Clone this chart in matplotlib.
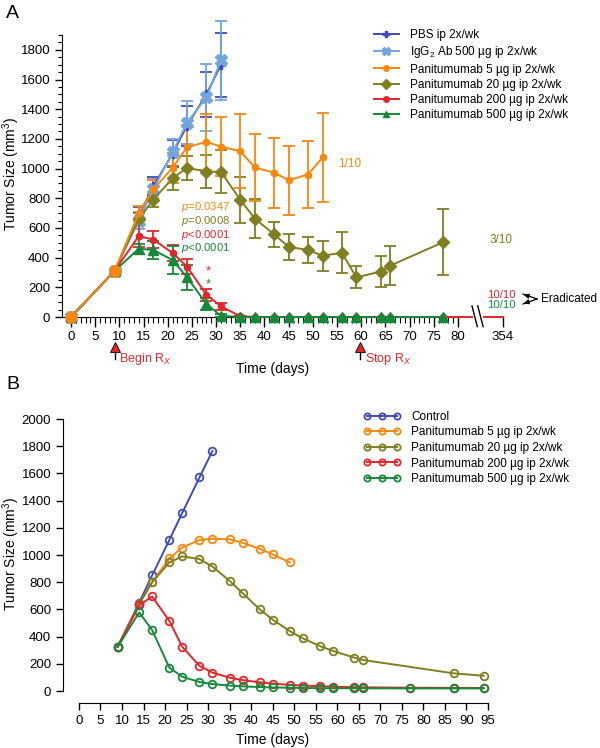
import numpy as np
import matplotlib
matplotlib.use("Agg")
import matplotlib.pyplot as plt
from matplotlib.lines import Line2D

plt.rcParams['font.family'] = ['Liberation Sans', 'DejaVu Sans']
plt.rcParams['mathtext.fontset'] = 'custom'
plt.rcParams['mathtext.rm'] = 'Liberation Sans'
plt.rcParams['mathtext.it'] = 'Liberation Sans:italic'
plt.rcParams['font.size'] = 9

# ---- panel A data (mean +/- error) ----
days_a = [0, 9, 14, 17, 21, 24, 28, 31, 35, 38, 42, 45, 49, 52, 56, 59, 64, 66, 77]
pbs = [0, 310, 680, 880, 1100, 1290, 1500, 1700]
pbs_err = [0, 15, 60, 60, 90, 135, 150, 215]
igg = [0, 310, 650, 860, 1110, 1310, 1480, 1730]
igg_err = [0, 15, 60, 70, 90, 145, 225, 265]
p5 = [0, 310, 700, 860, 1005, 1145, 1180, 1148, 1117, 1008, 972, 922, 960, 1075]
p5_err = [0, 15, 50, 60, 100, 150, 190, 200, 250, 225, 235, 233, 227, 298]
p20 = [0, 310, 660, 790, 935, 1005, 980, 978, 790, 663, 557, 472, 452, 413, 433, 267, 306, 346, 505]
p20_err = [0, 15, 40, 50, 80, 80, 110, 145, 155, 130, 82, 90, 85, 100, 137, 74, 107, 130, 220]
p200 = [0, 310, 545, 522, 432, 339, 150, 72, 5, 0, 0, 0, 0, 0, 0, 0, 0, 0, 0]
p200_err = [0, 15, 75, 55, 55, 50, 40, 25, 0, 0, 0, 0, 0, 0, 0, 0, 0, 0, 0]
p500 = [0, 310, 460, 452, 384, 268, 88, 8, 0, 0, 0, 0, 0, 0, 0, 0, 0, 0, 0]
p500_err = [0, 15, 35, 60, 95, 85, 40, 10, 0, 0, 0, 0, 0, 0, 0, 0, 0, 0, 0]

labels_a = ['PBS ip 2x/wk', r'IgG$_2$ Ab 500 µg ip 2x/wk', 'Panitumumab 5 µg ip 2x/wk',
            'Panitumumab 20 µg ip 2x/wk', 'Panitumumab 200 µg ip 2x/wk',
            'Panitumumab 500 µg ip 2x/wk']
pvals = ['$p$=0.0347', '$p$=0.0008', '$p$<0.0001', '$p$<0.0001']

# ---- panel B data (model fit) ----
days_b = [9, 14, 17, 21, 24, 28, 31, 35, 38, 42, 45, 49, 52, 56, 59, 64, 66, 77, 87, 94]
days_b20 = [9, 14, 17, 21, 24, 28, 31, 35, 38, 42, 45, 49, 52, 56, 59, 64, 66, 87, 94]
ctrl_b = [325, 650, 850, 1110, 1310, 1570, 1765]
p5_b = [325, 640, 800, 975, 1055, 1110, 1120, 1115, 1090, 1045, 1005, 945]
p20_b = [325, 640, 800, 945, 990, 970, 915, 810, 720, 600, 525, 440, 387, 330, 295, 245, 228, 130, 112]
p200_b = [325, 630, 695, 515, 325, 185, 135, 98, 80, 64, 54, 45, 40, 35, 32, 28, 27, 24, 23, 22]
p500_b = [325, 578, 448, 172, 105, 66, 51, 40, 34, 29, 26, 24, 22, 21, 20, 20, 20, 19, 19, 19]
labels_b = ['Control', 'Panitumumab 5 µg ip 2x/wk', 'Panitumumab 20 µg ip 2x/wk',
            'Panitumumab 200 µg ip 2x/wk', 'Panitumumab 500 µg ip 2x/wk']

c_pbs = '#3f4bb8'
c_igg = '#74a6de'
c_or = '#f7880f'
c_ol = '#7f7f22'
c_red = '#e3262a'
c_gr = '#14893a'

W, H = 600, 748
fig = plt.figure(figsize=(6, 7.48), dpi=100)


def fx(px):
    return px / W


def fy(py):
    return 1 - py / H


# ================= Panel A =================
axA = fig.add_axes([fx(62), fy(317), fx(516) - fx(62), fy(35) - fy(317)])
x_left, x_right = -1.86, 92
axA.set_xlim(x_left, x_right)
axA.set_ylim(0, 1900)

series = [
    (pbs, pbs_err, c_pbs, 'P', 6),
    (igg, igg_err, c_igg, 'X', 8),
    (p20, p20_err, c_ol, 'D', 6.5),
    (p200, p200_err, c_red, 'o', 4.5),
    (p500, p500_err, c_gr, '^', 6.5),
    (p5, p5_err, c_or, 'o', 4.5),
]
for vals, err, col, mk, ms in series:
    d = days_a[:len(vals)]
    axA.errorbar(d, vals, yerr=err, color=col, marker=mk, ms=ms, lw=1.4,
                 elinewidth=1.3, capsize=4, capthick=1.3, clip_on=False, zorder=3)
# bigger orange dot on the start points
axA.plot(days_a[:2], p5[:2], 'o', color=c_or, ms=8, zorder=4, clip_on=False)

# red line continuing to day 354 across the axis break
axA.plot([77, 83], [0, 0], color=c_red, lw=1.4, clip_on=False, zorder=3)
axA.plot([85.3, 89.3], [0, 0], color=c_red, lw=1.4, clip_on=False, zorder=3)
for x0 in (82.9, 84.1):
    axA.plot([x0, x0 + 1.1], [75, -65], color='black', lw=1.0, clip_on=False)

for s in ['top', 'right']:
    axA.spines[s].set_visible(False)
axA.spines['bottom'].set_bounds(x_left, 80)
axA.set_xticks(list(range(0, 81, 5)) + [89.3])
axA.set_xticklabels([str(v) for v in range(0, 81, 5)] + ['354'])
axA.set_xticks(range(0, 81), minor=True)
axA.set_yticks(range(0, 1801, 200))
axA.set_yticks(range(0, 1901, 50), minor=True)
axA.tick_params(axis='x', which='major', length=7, width=1, labelsize=9.5, pad=3)
axA.tick_params(axis='x', which='minor', length=4, width=0.8)
axA.tick_params(axis='y', which='major', length=5, width=1, labelsize=9.5)
axA.tick_params(axis='y', which='minor', length=3, width=0.8)

handles = [Line2D([], [], color=c, marker=m, ms=s, lw=1.4)
           for c, m, s in [(c_pbs, 'P', 5), (c_igg, 'X', 6), (c_or, 'o', 4),
                           (c_ol, 'D', 5), (c_red, 'o', 4), (c_gr, '^', 5)]]
axA.legend(handles, labels_a, loc='upper left', bbox_to_anchor=(fx(368), fy(23)),
           bbox_transform=fig.transFigure, frameon=False, fontsize=8.5,
           handlelength=2.1, handletextpad=1.0, labelspacing=0.28, borderpad=0)

# p-values and asterisks
for txt, col, py in zip(pvals, [c_or, c_ol, c_red, c_gr], [207.5, 221, 234.5, 248]):
    fig.text(fx(181), fy(py), txt, color=col, fontsize=8.1, va='center', ha='left')
fig.text(fx(208), fy(271), '*', color=c_red, fontsize=9.5, ha='center', va='center')
fig.text(fx(208), fy(284), '*', color=c_gr, fontsize=9.5, ha='center', va='center')

fig.text(fx(338), fy(164), '1/10', color=c_or, fontsize=8.5, va='center')
fig.text(fx(490), fy(240), '3/10', color=c_ol, fontsize=8.5, va='center')
fig.text(fx(487), fy(294.5), '10/10', color=c_red, fontsize=8.2, va='center')
fig.text(fx(487), fy(305), '10/10', color=c_gr, fontsize=8.2, va='center')
fig.text(fx(541), fy(299), 'Eradicated', color='black', fontsize=8.5, va='center')
for py in (294, 304):
    fig.add_artist(plt.Line2D([fx(537), fx(523)], [fy(299), fy(py)],
                              color='black', lw=0.9, transform=fig.transFigure))
    fig.patches.append(matplotlib.patches.FancyArrowPatch(
        (fx(530), fy(299 + (py - 299) * 0.5)), (fx(521), fy(py)),
        arrowstyle='-|>', mutation_scale=7, color='black', lw=0.9,
        transform=fig.transFigure, figure=fig))

# treatment start/stop markers
for day, label in [(9, r'Begin R$_X$'), (59.7, r'Stop R$_X$')]:
    axA.plot([day, day], [-225, -280], color='black', lw=1.0, clip_on=False)
    axA.plot([day], [-200], marker='^', color=c_red, mec='black', mew=0.6, ms=7,
             clip_on=False)
    axA.text(day + 1.0, -280, label, color=c_red, fontsize=9, va='center', ha='left')

fig.text(fx(273), fy(369), 'Time (days)', fontsize=10, ha='center', va='center')
fig.text(fx(11), fy(174), 'Tumor Size (mm$^3$)', fontsize=10, rotation=90,
         ha='center', va='center')
fig.text(fx(6), fy(14), 'A', fontsize=14, ha='left', va='center')

# ================= Panel B =================
axB = fig.add_axes([fx(63), fy(691), fx(560) - fx(63), fy(419) - fy(691)])
axB.set_xlim(-3.7, (560 - 79) / 4.305)
axB.set_ylim(0, 2000)
for d, vals, col in zip([days_b, days_b, days_b20, days_b, days_b],
                        [ctrl_b, p5_b, p20_b, p200_b, p500_b],
                        [c_pbs, c_or, c_ol, c_red, c_gr]):
    axB.plot(d[:len(vals)], vals, color=col, lw=1.4, marker='o', ms=5.5, mfc='none',
             mew=1.3, clip_on=False)

for s in ['top', 'right']:
    axB.spines[s].set_visible(False)
axB.spines['bottom'].set_position(('outward', 8.6))
axB.spines['bottom'].set_bounds(0, 95)
axB.spines['left'].set_bounds(0, 2000)
axB.set_xticks(range(0, 96, 5))
axB.set_yticks(range(0, 2001, 200))
axB.tick_params(axis='both', which='major', length=5, width=1, labelsize=9.5)

hb = [Line2D([], [], color=c, lw=1.4, marker='o', ms=4.5, mfc='none', mew=1.3)
      for c in [c_pbs, c_or, c_ol, c_red, c_gr]]
axB.legend(hb, labels_b, loc='upper left', bbox_to_anchor=(fx(358), fy(405)),
           bbox_transform=fig.transFigure, frameon=False, fontsize=8.5,
           numpoints=3, handlelength=3.1, handletextpad=0.9, labelspacing=0.3,
           borderpad=0)

fig.text(fx(273), fy(740), 'Time (days)', fontsize=10, ha='center', va='center')
fig.text(fx(11), fy(554), 'Tumor Size (mm$^3$)', fontsize=10, rotation=90,
         ha='center', va='center')
fig.text(fx(6), fy(385), 'B', fontsize=14, ha='left', va='center')

fig.savefig('out.png', dpi=100)
